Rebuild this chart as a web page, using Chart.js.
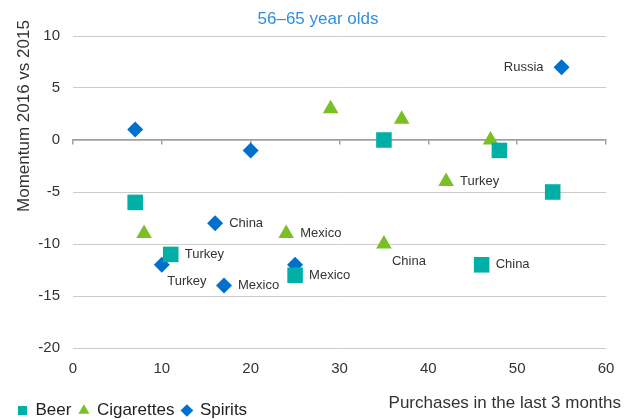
<!DOCTYPE html>
<html>
<head>
<meta charset="utf-8">
<script src="https://cdn.jsdelivr.net/npm/chart.js@4/dist/chart.umd.min.js"></script>
<style>
  html, body { margin: 0; padding: 0; background: #fff; }
  #wrap { width: 637px; height: 419px; }
</style>
</head>
<body>
<div id="wrap"><canvas id="momentumChart"></canvas></div>
<script>
// values
const beerX = [7, 11, 25, 35, 46, 48, 54];
const beerY = [-6, -11, -13, 0, -12, -1, -5];
const beerNames = ['', 'Turkey', 'Mexico', '', 'China', '', ''];

const cigX = [8, 24, 29, 35, 37, 42, 47];
const cigY = [-9, -9, 3, -10, 2, -4, 0];
const cigNames = ['', 'Mexico', '', 'China', '', 'Turkey', ''];

const spiritX = [7, 10, 16, 17, 20, 25, 55];
const spiritY = [1, -12, -8, -14, -1, -12, 7];
const spiritNames = ['', 'Turkey', 'China', 'Mexico', '', '', 'Russia'];

// where each country label sits: r = right of point, l = left, b = below right
const beerSpots = ['', 'r', 'r', '', 'r', '', ''];
const cigSpots = ['', 'r', '', 'b', '', 'r', ''];
const spiritSpots = ['', 'b', 'r', 'r', '', '', 'l'];

const xTicks = [0, 10, 20, 30, 40, 50, 60];
const yTicks = [-20, -15, -10, -5, 0, 5, 10];

const FONT = "'Liberation Sans', Arial, sans-serif";
Chart.defaults.font.family = FONT;
Chart.defaults.color = '#333';

function toPoints(xs, ys) {
    return xs.map((x, i) => ({ x: x, y: ys[i] }));
}

const pointLabels = {
    id: 'pointLabels',
    afterDatasetsDraw(chart) {
        const ctx = chart.ctx;
        ctx.save();
        ctx.font = '13px ' + FONT;
        ctx.fillStyle = '#333';
        ctx.textBaseline = 'middle';
        chart.data.datasets.forEach((ds, i) => {
            chart.getDatasetMeta(i).data.forEach((pt, j) => {
                const name = ds.names[j];
                if (!name) return;
                const spot = ds.spots[j];
                if (spot === 'l') {
                    ctx.textAlign = 'right';
                    ctx.fillText(name, pt.x - 18, pt.y);
                } else if (spot === 'b') {
                    ctx.textAlign = 'center';
                    ctx.fillText(name, pt.x + 25, pt.y + 17);
                } else {
                    ctx.textAlign = 'left';
                    ctx.fillText(name, pt.x + 14, pt.y);
                }
            });
        });
        ctx.restore();
    }
};

const chartTexts = {
    id: 'chartTexts',
    afterDraw(chart) {
        const ctx = chart.ctx;
        ctx.save();
        ctx.textBaseline = 'middle';
        // title
        ctx.font = '17px ' + FONT;
        ctx.fillStyle = '#2f8fdd';
        ctx.textAlign = 'center';
        ctx.fillText('56–65 year olds', 318, 19);
        // x axis title
        ctx.fillStyle = '#333';
        ctx.textAlign = 'right';
        ctx.fillText('Purchases in the last 3 months', 621, 403);
        // y axis title
        ctx.translate(24, 116);
        ctx.rotate(-Math.PI / 2);
        ctx.textAlign = 'center';
        ctx.fillText('Momentum 2016 vs 2015', 0, 0);
        ctx.restore();
    }
};

var ctx = document.getElementById('momentumChart').getContext('2d');
new Chart(ctx, {
    type: 'scatter',
    data: {
        datasets: [{
            label: 'Beer',
            data: toPoints(beerX, beerY),
            names: beerNames,
            spots: beerSpots,
            backgroundColor: '#00b0a6',
            borderWidth: 0,
            pointStyle: 'rect',
            pointRadius: 11,
            pointHoverRadius: 11
        }, {
            label: 'Cigarettes',
            data: toPoints(cigX, cigY),
            names: cigNames,
            spots: cigSpots,
            backgroundColor: '#7abf26',
            borderWidth: 0,
            pointStyle: 'triangle',
            pointRadius: 9,
            pointHoverRadius: 9
        }, {
            label: 'Spirits',
            data: toPoints(spiritX, spiritY),
            names: spiritNames,
            spots: spiritSpots,
            backgroundColor: '#0070cc',
            borderWidth: 0,
            pointStyle: 'rectRot',
            pointRadius: 8,
            pointHoverRadius: 8
        }]
    },
    options: {
        responsive: true,
        maintainAspectRatio: false,
        animation: false,
        layout: { padding: { top: 36, right: 31, left: 10, bottom: -10 } },
        plugins: {
            title: { display: false },
            tooltip: { enabled: false },
            legend: {
                position: 'bottom',
                align: 'start',
                labels: {
                    usePointStyle: true,
                    boxWidth: 9,
                    boxHeight: 9,
                    padding: 8,
                    color: '#222',
                    font: { size: 17 }
                }
            }
        },
        scales: {
            x: {
                type: 'linear',
                min: 0,
                max: 60,
                afterBuildTicks: s => { s.ticks = xTicks.map(v => ({ value: v })); },
                afterFit: s => { s.height = 46; },
                grid: { display: false },
                border: { display: false },
                ticks: { padding: 4, font: { size: 15 }, color: '#333' }
            },
            y: {
                min: -20,
                max: 10,
                afterBuildTicks: s => { s.ticks = yTicks.map(v => ({ value: v })); },
                afterFit: s => { s.width = 63; },
                grid: { color: '#cccccc', drawTicks: false },
                border: { display: false },
                ticks: { padding: 13, font: { size: 15 }, color: '#333' }
            },
            x2: {
                type: 'linear',
                position: { y: 0 },
                min: 0,
                max: 60,
                afterBuildTicks: s => { s.ticks = xTicks.map(v => ({ value: v })); },
                grid: { drawOnChartArea: false, drawTicks: true, tickLength: 4, color: '#a0a0a0', lineWidth: 1.5 },
                border: { color: '#a0a0a0', width: 1.5 },
                ticks: { display: false }
            }
        }
    },
    plugins: [pointLabels, chartTexts]
});
</script>
</body>
</html>
